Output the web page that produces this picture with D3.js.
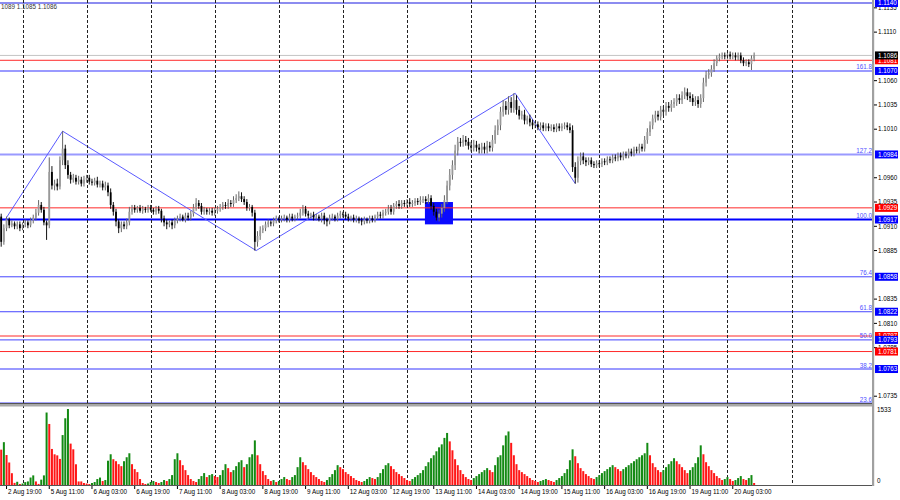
<!DOCTYPE html>
<html>
<head>
<meta charset="utf-8">
<script src="https://cdn.jsdelivr.net/npm/d3@7"></script>
<style>
  body { margin: 0; background: #fff; }
  svg { display: block; font-family: "Liberation Sans", Arial, sans-serif; }
</style>
</head>
<body>
<div id="chart"></div>
<script>
/* EURUSD H1 chart, 2 Aug - 20 Aug, with fibo levels, zigzag and a volumes window */

// ---- data ----
const firstOpen = 1.0920;
const closes = [
  1.0894, 1.0908,
  1.0917, 1.0911, 1.0913, 1.0910, 1.0912, 1.0908, 1.0912, 1.0914, 1.0911, 1.0916, 1.0919, 1.0924, 1.0932, 1.0927, 1.0914, 1.0911,
  1.0966, 1.0952, 1.0954, 1.0951, 1.0978, 1.0990, 1.0973, 1.0963, 1.0958, 1.0960, 1.0956, 1.0958, 1.0954, 1.0958, 1.0960, 1.0956,
  1.0955, 1.0957, 1.0953, 1.0954, 1.0950, 1.0952, 1.0945, 1.0932, 1.0925, 1.0915, 1.0908, 1.0912, 1.0910, 1.0914, 1.0925, 1.0929,
  1.0927, 1.0929, 1.0926, 1.0928, 1.0927, 1.0929, 1.0927, 1.0925, 1.0928, 1.0926, 1.0918, 1.0914, 1.0912, 1.0914, 1.0911, 1.0916,
  1.0918, 1.0920, 1.0917, 1.0921, 1.0919, 1.0923, 1.0929, 1.0934, 1.0931, 1.0925, 1.0927, 1.0925, 1.0926, 1.0924, 1.0926, 1.0928,
  1.0930, 1.0932, 1.0931, 1.0934, 1.0933, 1.0937, 1.0939, 1.0941, 1.0938, 1.0935, 1.0929, 1.0930, 1.0924, 1.0894, 1.0900, 1.0906,
  1.0908, 1.0912, 1.0914, 1.0913, 1.0916, 1.0918, 1.0917, 1.0918, 1.0919, 1.0917, 1.0920, 1.0918, 1.0920, 1.0921, 1.0924, 1.0928,
  1.0923, 1.0921, 1.0922, 1.0919, 1.0920, 1.0918, 1.0921, 1.0917, 1.0915, 1.0919, 1.0920, 1.0918, 1.0921, 1.0923, 1.0922, 1.0920,
  1.0918, 1.0919, 1.0917, 1.0918, 1.0916, 1.0915, 1.0917, 1.0916, 1.0918, 1.0917, 1.0920, 1.0922, 1.0921, 1.0924, 1.0925, 1.0928,
  1.0925, 1.0931, 1.0933, 1.0931, 1.0934, 1.0933, 1.0935, 1.0933, 1.0934, 1.0936, 1.0935, 1.0937, 1.0938, 1.0936, 1.0939, 1.0931,
  1.0925, 1.0919, 1.0923, 1.0929, 1.0937, 1.0952, 1.0963, 1.0973, 1.0988, 1.0997, 1.0996, 1.0999, 1.0997, 1.0993, 1.0991, 1.0994,
  1.0991, 1.0989, 1.0992, 1.0989, 1.0993, 1.0991, 1.0999, 1.1009, 1.1014, 1.1028, 1.1034, 1.1030, 1.1038, 1.1032, 1.1040, 1.1030,
  1.1024, 1.1025, 1.1019, 1.1021, 1.1017, 1.1014, 1.1015, 1.1012, 1.1014, 1.1011, 1.1013, 1.1011, 1.1012, 1.1010, 1.1013, 1.1011,
  1.1013, 1.1014, 1.1012, 1.1009, 1.0971, 1.0960, 1.0977, 1.0982, 1.0978, 1.0976, 1.0978, 1.0974, 1.0973, 1.0975, 1.0974, 1.0977,
  1.0976, 1.0979, 1.0978, 1.0981, 1.0980, 1.0983, 1.0981, 1.0984, 1.0983, 1.0987, 1.0985, 1.0989, 1.0988, 1.0992, 1.0990, 1.0999,
  1.1007, 1.1014, 1.1021, 1.1025, 1.1023, 1.1030, 1.1028, 1.1034, 1.1032, 1.1036, 1.1038, 1.1042, 1.1040, 1.1045, 1.1048, 1.1044,
  1.1042, 1.1038, 1.1040, 1.1036, 1.1042, 1.1058, 1.1066, 1.1068, 1.1072, 1.1078, 1.1083, 1.1085, 1.1086, 1.1085, 1.1087, 1.1085,
  1.1086, 1.1084, 1.1086, 1.1081, 1.1078, 1.1079, 1.1077, 1.1083, 1.1086
];
// wick length above / below the body, in pips
const wickUp = [
  3, 4,
  3, 2, 3, 2, 3, 3, 2, 3, 2, 3, 3, 4, 5, 3, 3, 2,
  15, 6, 4, 5, 4, 18, 4, 5, 3, 4, 3, 4, 3, 4, 3, 3,
  3, 3, 4, 3, 3, 4, 3, 4, 3, 3, 2, 3, 3, 4, 5, 3,
  3, 2, 3, 3, 2, 3, 3, 2, 3, 3, 2, 3, 3, 2, 3, 3,
  3, 3, 2, 3, 3, 3, 4, 5, 3, 3, 3, 2, 3, 3, 3, 3,
  3, 3, 3, 4, 3, 4, 4, 5, 4, 3, 3, 3, 2, 3, 5, 4,
  3, 3, 3, 2, 3, 3, 2, 3, 3, 2, 3, 3, 2, 3, 4, 4,
  3, 3, 2, 3, 3, 2, 3, 3, 2, 3, 3, 2, 3, 3, 2, 3,
  3, 2, 3, 3, 2, 3, 3, 2, 3, 3, 2, 3, 3, 3, 3, 4,
  4, 3, 3, 4, 3, 3, 3, 4, 3, 3, 3, 4, 3, 3, 4, 3,
  3, 3, 4, 4, 5, 5, 6, 5, 6, 5, 4, 5, 4, 4, 4, 5,
  4, 4, 4, 4, 5, 4, 5, 5, 6, 5, 6, 5, 6, 5, 7, 5,
  4, 4, 5, 3, 4, 3, 3, 3, 3, 3, 3, 3, 3, 3, 3, 3,
  3, 3, 3, 4, 5, 5, 5, 4, 4, 3, 3, 3, 3, 3, 3, 3,
  3, 3, 3, 3, 3, 3, 3, 3, 3, 3, 3, 3, 3, 3, 3, 4,
  4, 4, 4, 4, 4, 4, 4, 4, 4, 4, 4, 4, 4, 4, 5, 4,
  4, 4, 4, 4, 4, 5, 4, 4, 4, 4, 3, 3, 3, 3, 3, 3,
  3, 3, 3, 3, 3, 3, 3, 3, 3
];
const wickDn = [
  5, 3,
  3, 3, 2, 3, 3, 3, 2, 3, 3, 2, 3, 3, 3, 3, 3, 15,
  3, 4, 5, 4, 3, 5, 4, 4, 4, 3, 3, 3, 3, 3, 3, 3,
  3, 3, 3, 3, 3, 3, 4, 4, 4, 5, 5, 4, 3, 3, 3, 3,
  3, 3, 2, 3, 3, 3, 2, 3, 3, 3, 4, 4, 5, 3, 4, 3,
  3, 3, 2, 3, 3, 3, 3, 3, 3, 3, 3, 3, 3, 3, 3, 3,
  3, 3, 3, 3, 3, 3, 3, 3, 3, 3, 3, 3, 4, 9, 5, 4,
  3, 3, 3, 3, 3, 3, 3, 3, 3, 3, 3, 3, 3, 3, 3, 3,
  3, 3, 3, 3, 3, 3, 4, 5, 5, 3, 3, 3, 3, 3, 3, 3,
  3, 3, 3, 3, 3, 4, 3, 3, 3, 3, 3, 3, 3, 3, 3, 3,
  3, 3, 3, 3, 3, 3, 3, 3, 3, 3, 3, 3, 3, 3, 3, 4,
  4, 3, 4, 4, 4, 4, 5, 5, 5, 5, 4, 4, 4, 4, 4, 4,
  4, 4, 4, 4, 4, 4, 4, 4, 5, 5, 5, 5, 5, 5, 5, 5,
  4, 4, 4, 4, 4, 4, 3, 3, 3, 3, 3, 3, 3, 3, 3, 3,
  3, 3, 3, 3, 5, 6, 5, 4, 4, 4, 3, 3, 3, 3, 3, 3,
  3, 3, 3, 3, 3, 3, 3, 3, 3, 3, 3, 3, 3, 3, 3, 3,
  4, 4, 4, 4, 4, 4, 4, 4, 4, 4, 4, 4, 4, 4, 4, 4,
  4, 4, 4, 4, 4, 4, 4, 4, 4, 3, 3, 3, 3, 3, 3, 3,
  3, 3, 3, 3, 3, 3, 3, 6, 3
];
const volumes = [
  713, 864,
  605, 454, 238, 43, 65, 20, 30, 58, 72, 151, 194, 72, 22, 108, 194, 1462,
  1231, 727, 619, 598, 526, 1007, 1346, 1533, 835, 720, 418, 72, 72, 40, 30, 20,
  40, 60, 120, 150, 80, 100, 490, 620, 520, 480, 420, 380, 480, 560, 640, 420,
  320, 260, 120, 40, 20, 30, 60, 80, 60, 40, 60, 100, 80, 120, 200, 520,
  640, 500, 400, 300, 200, 120, 80, 60, 120, 180, 240, 160, 200, 220, 180, 160,
  200, 300, 420, 340, 260, 300, 380, 460, 500, 360, 420, 560, 620, 900, 600, 420,
  280, 200, 120, 80, 100, 60, 80, 120, 160, 120, 100, 160, 200, 360, 560, 460,
  400, 320, 260, 200, 160, 120, 80, 60, 100, 160, 220, 300, 400, 360, 320, 260,
  220, 180, 140, 100, 80, 60, 80, 120, 160, 140, 120, 160, 240, 320, 400, 440,
  380, 320, 260, 220, 180, 140, 100, 80, 120, 160, 200, 240, 300, 380, 460, 540,
  600, 680, 760, 820, 950, 1050, 880, 700, 520, 400, 300, 220, 160, 120, 100, 140,
  180, 220, 260, 300, 340, 300, 260, 400, 560, 600, 800, 1000, 1080, 850, 600, 420,
  300, 260, 220, 180, 140, 100, 80, 60, 80, 100, 120, 100, 80, 60, 100, 140,
  180, 240, 320, 500, 720, 580, 440, 340, 280, 220, 180, 140, 120, 160, 200, 240,
  280, 320, 360, 400, 360, 320, 280, 320, 360, 400, 440, 480, 520, 560, 600, 640,
  850, 600, 440, 360, 300, 260, 300, 360, 420, 480, 540, 480, 420, 360, 300, 240,
  300, 360, 440, 560, 800, 620, 460, 380, 300, 240, 180, 140, 100, 120, 160, 120,
  80, 100, 140, 180, 120, 100, 140, 200, 40
];
const volumeMax = 1533;

const timeLabels = ["2 Aug 19:00", "5 Aug 11:00", "6 Aug 03:00", "6 Aug 19:00", "7 Aug 11:00", "8 Aug 03:00",
  "8 Aug 19:00", "9 Aug 11:00", "12 Aug 03:00", "12 Aug 19:00", "13 Aug 11:00", "14 Aug 03:00",
  "14 Aug 19:00", "15 Aug 11:00", "16 Aug 03:00", "16 Aug 19:00", "19 Aug 11:00", "20 Aug 03:00"];
const timeLabelBars = [2, 18, 34, 50, 66, 82, 98, 114, 130, 146, 162, 178, 194, 210, 226, 242, 258, 274];
const gridBars = [8, 32, 56, 80, 104, 128, 152, 176, 200, 224, 248, 272, 296];

// price scale labels (the ones hidden under the coloured boxes are left out)
const priceTicks = [1.0735, 1.0785, 1.0810, 1.0835, 1.0885, 1.0910, 1.0935,
  1.0960, 1.1010, 1.1035, 1.1060, 1.1110, 1.1135];

const fibNames  = ["23.6", "38.2", "50.0", "61.8", "76.4", "100.0", "127.2", "161.8"];
const fibPrices = [1.0728, 1.0763, 1.0793, 1.0822, 1.0858, 1.0917, 1.0984, 1.1070];
const redPrices = [1.0781, 1.0797, 1.0929, 1.1081];
const topLinePrice = 1.1140;
const lastPrice = 1.1086;
const lastBarText = "1089 1.1085 1.1086";

const zigzagBars   = [1.5, 23, 95.5, 192.5, 215];
const zigzagPrices = [1.0917, 1.1008, 1.0885, 1.1047, 1.0954];
const boxBars   = [158.7, 169.2];
const boxPrices = [1.0912, 1.0935];

// ---- layout ----
const width = 900, height = 500;
const axisX = 873;          // right price axis
const mainBottom = 403;     // bottom of the price window
const volBottom = 485;      // bottom of the volumes window
const fontSize = 6.3;

const svg = d3.select('#chart').append('svg')
    .attr('width', width)
    .attr('height', height);

svg.append('rect').attr('width', width).attr('height', height).attr('fill', '#fff');

// bar index -> x, price -> y
const x = d3.scaleLinear().domain([0, 100]).range([1.2, 268.2]);
const y = d3.scaleLinear().domain([1.0728, 1.1140]).range([mainBottom, 3]);
const yv = d3.scaleLinear().domain([0, volumeMax]).range([volBottom, 409]);

// clip everything inside the price window
svg.append('clipPath').attr('id', 'mainClip')
    .append('rect').attr('x', 0).attr('y', 0).attr('width', axisX).attr('height', mainBottom);
const main = svg.append('g').attr('clip-path', 'url(#mainClip)');

// dashed vertical grid, both windows
svg.append('g').selectAll('line')
    .data(gridBars)
    .enter().append('line')
    .attr('x1', d => Math.round(x(d)) + 0.5)
    .attr('x2', d => Math.round(x(d)) + 0.5)
    .attr('y1', 0)
    .attr('y2', volBottom)
    .attr('stroke', '#222')
    .attr('stroke-dasharray', '3,2');

// fibo levels
function fibStyle(name) {
    if (name === "100.0") return {c: '#0000ff', w: 2};
    if (name === "127.2" || name === "161.8" || name === "38.2") return {c: '#9a9aff', w: 2};
    return {c: '#4646ff', w: 1};
}
main.append('g').selectAll('line')
    .data(fibPrices)
    .enter().append('line')
    .attr('x1', 0).attr('x2', axisX)
    .attr('y1', d => y(d)).attr('y2', d => y(d))
    .attr('stroke', (d, i) => fibStyle(fibNames[i]).c)
    .attr('stroke-width', (d, i) => fibStyle(fibNames[i]).w);

// level at the very top and the last price line
main.append('line')
    .attr('x1', 0).attr('x2', axisX)
    .attr('y1', y(topLinePrice)).attr('y2', y(topLinePrice))
    .attr('stroke', '#8c8cf0').attr('stroke-width', 2);
main.append('line')
    .attr('x1', 0).attr('x2', axisX)
    .attr('y1', y(lastPrice)).attr('y2', y(lastPrice))
    .attr('stroke', '#c4c4c4').attr('stroke-width', 1);

// blue rectangle
main.append('rect')
    .attr('x', x(boxBars[0]))
    .attr('y', y(boxPrices[1]))
    .attr('width', x(boxBars[1]) - x(boxBars[0]))
    .attr('height', y(boxPrices[0]) - y(boxPrices[1]))
    .attr('fill', '#0a0aff');

// red levels
main.append('g').selectAll('line')
    .data(redPrices)
    .enter().append('line')
    .attr('x1', 0).attr('x2', axisX)
    .attr('y1', d => y(d)).attr('y2', d => y(d))
    .attr('stroke', '#ff2a2a').attr('stroke-width', 1);

// zigzag
const zz = zigzagBars.map((b, i) => [x(b), y(zigzagPrices[i])]);
main.append('path')
    .attr('d', d3.line()(zz))
    .attr('fill', 'none')
    .attr('stroke', '#5a5aff')
    .attr('stroke-width', 1);

// candles
const candles = closes.map((c, i) => {
    const o = i === 0 ? firstOpen : closes[i - 1];
    return {
        i: i, o: o, c: c,
        h: Math.max(o, c) + wickUp[i] * 0.0001,
        l: Math.min(o, c) - wickDn[i] * 0.0001
    };
});
let candle = main.append('g').selectAll('.candle')
    .data(candles)
    .enter().append('g')
    .attr('class', 'candle');
candle.append('line')
    .attr('x1', d => x(d.i)).attr('x2', d => x(d.i))
    .attr('y1', d => y(d.h)).attr('y2', d => y(d.l))
    .attr('stroke', d => d.c >= d.o ? '#666' : '#111')
    .attr('stroke-width', 1);
candle.append('rect')
    .attr('x', d => x(d.i) - 0.9)
    .attr('width', 1.8)
    .attr('y', d => y(Math.max(d.o, d.c)))
    .attr('height', d => Math.max(1, Math.abs(y(d.o) - y(d.c))))
    .attr('fill', d => d.c >= d.o ? '#999' : '#000');

// fibo captions
main.append('g').selectAll('text')
    .data(fibPrices)
    .enter().append('text')
    .attr('x', axisX - 1)
    .attr('y', d => y(d) - 1.5)
    .attr('text-anchor', 'end')
    .attr('font-size', fontSize)
    .attr('fill', '#5050ff')
    .text((d, i) => fibNames[i]);

// volumes window
svg.append('g').selectAll('rect')
    .data(volumes)
    .enter().append('rect')
    .attr('x', (d, i) => x(i) - 1)
    .attr('width', 2)
    .attr('y', d => yv(d))
    .attr('height', d => volBottom - yv(d))
    .attr('fill', (d, i) => (i > 0 && d > volumes[i - 1]) ? '#138a13' : '#ff1616');

// window frames
svg.append('rect').attr('x', 0).attr('y', mainBottom).attr('width', axisX + 1).attr('height', 1).attr('fill', '#555');
svg.append('rect').attr('x', 0).attr('y', mainBottom + 1).attr('width', axisX + 1).attr('height', 2.5).attr('fill', '#a8a8a8');
svg.append('rect').attr('x', 0).attr('y', volBottom).attr('width', axisX + 1).attr('height', 1).attr('fill', '#555');
svg.append('rect').attr('x', axisX - 1).attr('y', 0).attr('width', 2.2).attr('height', volBottom + 1).attr('fill', '#a0a0a0');

// price axis ticks and labels
let ticks = svg.append('g').selectAll('.tick')
    .data(priceTicks)
    .enter().append('g')
    .attr('class', 'tick')
    .attr('transform', d => `translate(0,${y(d)})`);
ticks.append('line')
    .attr('x1', axisX + 1).attr('x2', axisX + 4)
    .attr('stroke', '#000');
ticks.append('text')
    .attr('x', axisX + 5)
    .attr('y', 2.2)
    .attr('font-size', fontSize)
    .attr('fill', '#000')
    .text(d => d.toFixed(4));

// coloured price boxes on the axis
const boxes = []
    .concat(redPrices.map(p => ({p: p, c: '#ff0000'})))
    .concat([topLinePrice].concat(fibPrices.slice(1)).map(p => ({p: p, c: '#0000ff'})))
    .concat([{p: lastPrice, c: '#000'}]);
let pbox = svg.append('g').selectAll('.pbox')
    .data(boxes)
    .enter().append('g')
    .attr('class', 'pbox')
    .attr('transform', d => `translate(${axisX + 2},${y(d.p)})`);
pbox.append('rect')
    .attr('y', -4).attr('width', 23).attr('height', 8)
    .attr('fill', d => d.c);
pbox.append('text')
    .attr('x', 3)
    .attr('y', 2.3)
    .attr('font-size', fontSize)
    .attr('fill', '#fff')
    .text(d => d.p.toFixed(4));

// volume scale labels
svg.append('text').attr('x', axisX + 4).attr('y', yv(volumeMax) + 3)
    .attr('font-size', fontSize).attr('fill', '#000').text(volumeMax);
svg.append('text').attr('x', axisX + 4).attr('y', yv(0) - 2)
    .attr('font-size', fontSize).attr('fill', '#000').text('0');

// time axis
let tl = svg.append('g').selectAll('.tl')
    .data(timeLabels)
    .enter().append('g')
    .attr('class', 'tl')
    .attr('transform', (d, i) => `translate(${x(timeLabelBars[i])},0)`);
tl.append('line')
    .attr('y1', volBottom + 1).attr('y2', volBottom + 4)
    .attr('stroke', '#000');
tl.append('text')
    .attr('x', 1.5)
    .attr('y', 494)
    .attr('font-size', fontSize)
    .attr('fill', '#000')
    .text(d => d);

// last bar prices in the corner
svg.append('text')
    .attr('x', 1).attr('y', 8.5)
    .attr('font-size', fontSize)
    .attr('fill', '#333')
    .text(lastBarText);
</script>
</body>
</html>
